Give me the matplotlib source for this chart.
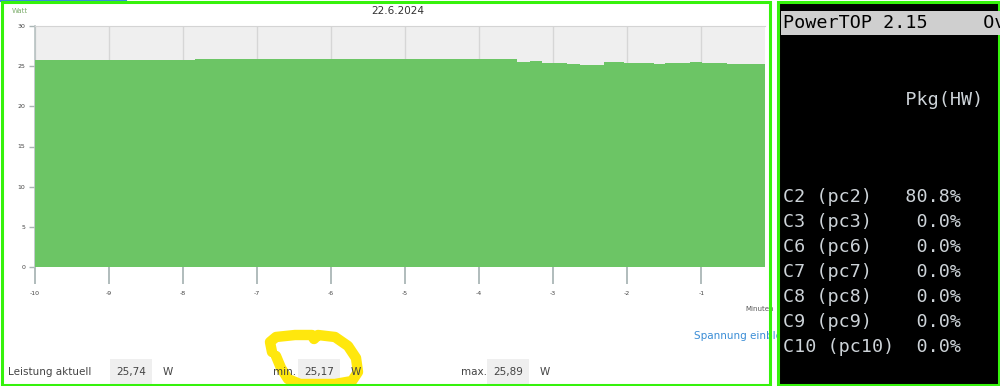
import matplotlib
matplotlib.use("Agg")
import matplotlib.pyplot as plt
from matplotlib.patches import Rectangle

# ---------------- data ----------------
t_edges = [-10, -7.84, -5.84, -3.49, -3.32, -3.15, -2.81, -2.64, -2.32, -2.04,
           -1.64, -1.49, -1.15, -0.99, -0.65, -0.47, -0.14]
watts = [25.80, 25.86, 25.89, 25.47, 25.70, 25.40, 25.31, 25.20, 25.47, 25.40,
         25.27, 25.43, 25.56, 25.40, 25.25, 25.31]
x_ticks = [-10, -9, -8, -7, -6, -5, -4, -3, -2, -1]
y_ticks = [0, 5, 10, 15, 20, 25, 30]
chart_date = "22.6.2024"
stat_labels = ["Leistung aktuell", "min.", "max."]
stat_values = ["25,74", "25,17", "25,89"]
pt_rows = ["C2 (pc2)   80.8%", "C3 (pc3)    0.0%", "C6 (pc6)    0.0%",
           "C7 (pc7)    0.0%", "C8 (pc8)    0.0%", "C9 (pc9)    0.0%",
           "C10 (pc10)  0.0%"]

W, H = 1000, 386
fig = plt.figure(figsize=(W / 100, H / 100), dpi=100)
fig.patch.set_facecolor("white")

# ---------------- chart ----------------
ax = fig.add_axes([35 / W, (H - 267) / H, (765 - 35) / W, (267 - 26) / H])
ax.set_facecolor("#efefef")
ax.fill_between(t_edges, watts + [watts[-1]], 0, step="post",
                color="#6cc565", linewidth=0, zorder=3)
ax.set_xlim(-10, -0.14)
ax.set_ylim(0, 30)
ax.set_xticks(x_ticks)
ax.set_xticklabels([str(v) for v in x_ticks])
ax.set_yticks(y_ticks)
ax.set_yticklabels([str(v) for v in y_ticks])
ax.tick_params(axis="x", length=12, width=1.3, color="#aab6b6", labelsize=4.5,
               labelcolor="#444444", pad=5)
ax.tick_params(axis="y", length=4, width=1, color="#aab6b6", labelsize=4.5,
               labelcolor="#444444", pad=3)
ax.grid(axis="x", color="#d6d6d6", linewidth=1, zorder=1)
ax.set_axisbelow(True)
for s in ["right", "bottom"]:
    ax.spines[s].set_visible(False)
ax.spines["left"].set_color("#b8c2c2")
ax.spines["left"].set_linewidth(1.2)
ax.spines["top"].set_color("#d4d4d4")

# ---------------- overlay in pixel coordinates ----------------
ov = fig.add_axes([0, 0, 1, 1], zorder=5)
ov.set_xlim(0, W)
ov.set_ylim(H, 0)
ov.axis("off")
ov.patch.set_alpha(0)

clip = Rectangle((0, 0), 769, H, transform=ov.transData, facecolor="none",
                 edgecolor="none")
ov.add_patch(clip)

ov.plot([0, 126], [1, 1], color="#3a88e0", linewidth=1.5, zorder=6)
ov.text(12, 11, "Watt", fontsize=5, color="#7fae6e", va="center")
ov.text(398, 11, chart_date, fontsize=7.5, color="#333333", va="center",
        ha="center")
t = ov.text(745, 309, "Minuten", fontsize=5, color="#555555", va="center")
t.set_clip_path(clip)
t = ov.text(694, 336, "Spannung einblenden", fontsize=7.5, color="#3a8dd6",
            va="center")
t.set_clip_path(clip)

# highlighter scribble around min value
sx = [272, 270, 276, 295, 312, 314, 318, 335, 348, 356, 358, 352, 335, 300,
      288, 281, 276]
sy = [352, 342, 337, 335, 335, 339, 335, 337, 346, 358, 372, 381, 384, 384,
      379, 368, 356]
ov.plot(sx, sy, color="#ffe600", linewidth=7.5, solid_capstyle="round",
        solid_joinstyle="round", alpha=0.95, zorder=2)

lab_x = [8, 273, 461]
box_x = [110, 298, 487]
for lx, bx, lab, val in zip(lab_x, box_x, stat_labels, stat_values):
    ov.text(lx, 372, lab, fontsize=7.5, color="#444444", va="center")
    ov.add_patch(Rectangle((bx, 359), 42, 27, facecolor="#efefef",
                           edgecolor="none", zorder=1))
    ov.text(bx + 21, 372, val, fontsize=7.5, color="#444444", va="center",
            ha="center", zorder=3)
    ov.text(bx + 53, 372, "W", fontsize=7.5, color="#444444", va="center",
            zorder=3)

# left panel border
ov.add_patch(Rectangle((1.5, 1.5), 768.5, 383, facecolor="none",
                       edgecolor="#36f20c", linewidth=2.2, zorder=8))

# ---------------- right panel (PowerTOP) ----------------
ov.add_patch(Rectangle((777.5, 1.5), 221, 383, facecolor="black",
                       edgecolor="#36f20c", linewidth=2.2, zorder=7))
ov.add_patch(Rectangle((781, 11), 219, 24, facecolor="#cfcfcf",
                       edgecolor="none", zorder=8))
mono = "DejaVu Sans Mono"
ov.text(783, 23.5, "PowerTOP 2.15     Ov", family=mono, fontsize=13.2,
        color="black", va="center", zorder=9)
ov.text(783, 100, "           Pkg(HW)", family=mono, fontsize=13.2,
        color="#cdd3d8", va="center", zorder=9)
for i, row in enumerate(pt_rows):
    ov.text(783, 197 + 25 * i, row, family=mono, fontsize=13.2,
            color="#cdd3d8", va="center", zorder=9)

fig.savefig("out.png", dpi=100)
